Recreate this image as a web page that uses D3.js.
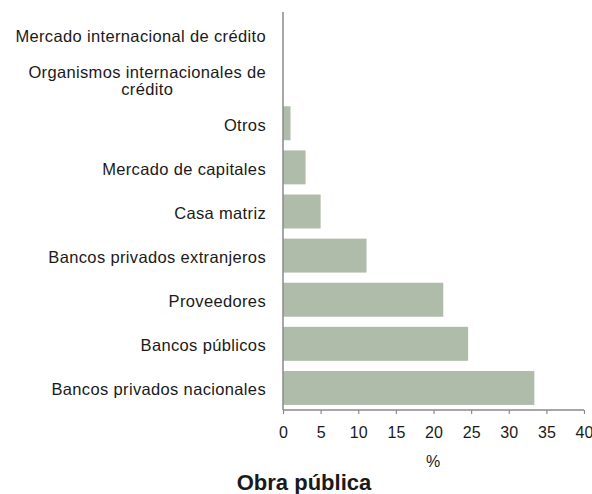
<!DOCTYPE html>
<html>
<head>
<meta charset="utf-8">
<script src="https://cdn.jsdelivr.net/npm/d3@7"></script>
<style>
  html, body { margin: 0; padding: 0; background: #fff; }
  svg { display: block; font-family: "Liberation Sans", Arial, Helvetica, sans-serif; }
</style>
</head>
<body>
<svg id="chart" width="592" height="494"></svg>
<script>
const categories = [
  "Mercado internacional de crédito",
  "Organismos internacionales de crédito",
  "Otros",
  "Mercado de capitales",
  "Casa matriz",
  "Bancos privados extranjeros",
  "Proveedores",
  "Bancos públicos",
  "Bancos privados nacionales"
];
const values = [0, 0, 1.0, 3.0, 5.0, 11.1, 21.3, 24.6, 33.4];
const xTicks = [0, 5, 10, 15, 20, 25, 30, 35, 40];
const xLabel = "%";
const title = "Obra pública";

const svg = d3.select("#chart");
const margin = { left: 283, top: 13 };
const x = d3.scaleLinear().domain([0, 40]).range([margin.left, 584]);
const y = d3.scaleBand().domain(categories).range([margin.top, 410]).paddingInner(0.23).paddingOuter(0.115);

// bars
svg.append("g").selectAll("rect").data(categories).join("rect")
  .attr("x", x(0))
  .attr("y", d => y(d))
  .attr("width", (d, i) => x(values[i]) - x(0))
  .attr("height", y.bandwidth())
  .attr("fill", "#b0bcaa");

// x axis
const xAxis = d3.axisBottom(x).tickValues(xTicks).tickSize(4).tickPadding(12.5).tickFormat(d3.format("d"));
const gx = svg.append("g").attr("transform", `translate(0,410)`).call(xAxis);
gx.select(".domain").attr("stroke", "#8a8a8a").attr("stroke-width", 1.5).attr("d", `M${x(0)},0H${x(40)}`);
gx.selectAll(".tick line").attr("stroke", "#8a8a8a").attr("stroke-width", 1.2);
gx.selectAll(".tick text").attr("font-size", 16).attr("fill", "#1a1a1a")
  .attr("font-family", "'Liberation Sans', Arial, sans-serif");

// y axis line
svg.append("line")
  .attr("x1", x(0)).attr("x2", x(0))
  .attr("y1", margin.top - 1).attr("y2", 410)
  .attr("stroke", "#8a8a8a").attr("stroke-width", 1.5);

// y labels
const labelX = 266;
const lab = svg.append("g").attr("font-size", 16.5).attr("letter-spacing", "0.35px").attr("fill", "#1a1a1a");
categories.forEach((c, i) => {
  const cy = y(c) + y.bandwidth() / 2 + 1.5;
  if (c === "Organismos internacionales de crédito") {
    const l1 = lab.append("text").attr("x", labelX).attr("y", cy - 8.5).attr("dy", "0.35em")
      .attr("text-anchor", "end").text("Organismos internacionales de");
    const w = l1.node().getComputedTextLength();
    lab.append("text").attr("x", labelX - w / 2).attr("y", cy + 8.5).attr("dy", "0.35em")
      .attr("text-anchor", "middle").text("crédito");
  } else {
    lab.append("text").attr("x", labelX).attr("y", cy).attr("dy", "0.35em")
      .attr("text-anchor", "end").text(c);
  }
});

// x label
svg.append("text").attr("x", 433).attr("y", 467).attr("text-anchor", "middle")
  .attr("font-size", 16).attr("fill", "#1a1a1a").text(xLabel);

// title
svg.append("text").attr("x", 304).attr("y", 490).attr("text-anchor", "middle")
  .attr("font-size", 22).attr("font-weight", "bold").attr("fill", "#1a1a1a").text(title);
</script>
</body>
</html>
